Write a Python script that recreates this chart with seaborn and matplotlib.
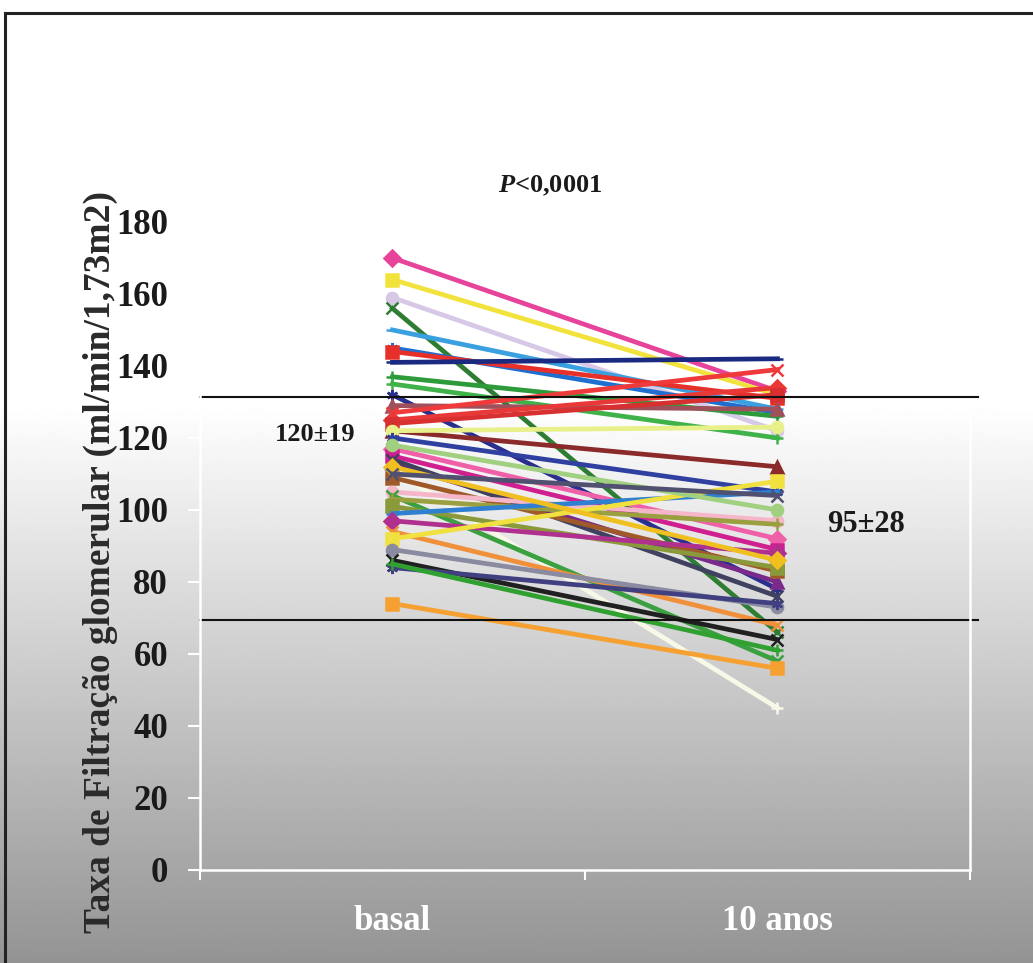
import numpy as np
import pandas as pd
import matplotlib
matplotlib.use('Agg')
import matplotlib.pyplot as plt
import matplotlib.patches as mpatches
import seaborn as sns

# dados (TFG em ml/min/1,73m2)
momentos = ['basal', '10 anos']
basal = [170, 164, 159, 156, 150, 145, 144, 141, 137, 135,
         132, 129, 127, 125, 124, 122, 122, 120, 117, 115,
         113, 111, 114, 109, 105, 104, 103, 101, 99, 97,
         94, 92, 89, 86, 84, 85, 74, 112, 118, 110]
dez_anos = [133, 132, 122, 66, 128, 127, 131, 142, 126, 120,
            78, 128, 139, 134, 132, 112, 123, 105, 92, 89,
            80, 45, 76, 83, 97, 58, 96, 84, 105, 88,
            68, 108, 73, 64, 74, 61, 56, 86, 100, 104]
limites = [131.4, 69.4]

cores = ['#e8439a', '#f2e23c', '#d8c8e8', '#2e7d32', '#3aa0e0', '#1e6fd0', '#e8302a', '#1a2a80',
         '#2e9b3a', '#3fb24a', '#2a2f8f', '#a0505a', '#ee3a3a', '#e83838', '#d83030', '#8b2a2a',
         '#e8f08a', '#3040a0', '#f060a8', '#d02090', '#7a2a8a', '#f8f8e8', '#404060', '#a05a2a',
         '#f4b6c8', '#3aa040', '#9aa040', '#8a9a3a', '#2f80d0', '#b03090', '#f0903a', '#f0e040',
         '#8a8aa0', '#202020', '#404080', '#30a030', '#f5a030', '#f0c020', '#a0d080', '#505070']
marcas = ['D', 's', 'o', 'x', '_', (6, 2, 0), 's', '_', '+', '+', (6, 2, 0), '^', 'x', 'D', 's', '^',
          'o', (6, 2, 0), 'D', 's', '^', '+', 'x', 's', 'o', 'x', '+', 's', '_', 'D',
          'x', 's', 'o', 'x', (6, 2, 0), '+', 's', 'D', 'o', 'x']

plt.rcParams['font.family'] = ['Liberation Serif', 'DejaVu Serif']
plt.rcParams['mathtext.fontset'] = 'custom'
plt.rcParams['mathtext.it'] = 'Liberation Serif:italic:bold'
plt.rcParams['mathtext.rm'] = 'Liberation Serif:bold'

fig = plt.figure(figsize=(10.33, 9.63), dpi=100)

# fundo em degrade (branco -> cinza)
bg = fig.add_axes([0, 0, 1, 1], zorder=-5)
f = np.linspace(0, 1, 400)
g = np.where(f < 0.42, 1.0, 1.0 - (f - 0.42) / 0.58 * 0.42)
bg.imshow(np.tile(g[:, None], (1, 10)), cmap='gray', vmin=0, vmax=1, aspect='auto',
          extent=[0, 1, 0, 1], origin='upper')
bg.axis('off')
fig.patches.append(mpatches.Rectangle((0.005, -0.05), 1.1, 1.0365, transform=fig.transFigure,
                                      fill=False, edgecolor='#222222', lw=2.2))

ax = fig.add_axes([0.1936, 0.0966, 0.7454, 0.6729])
ax.set_facecolor('none')

for b, d, c, m in zip(basal, dez_anos, cores, marcas):
    sns.lineplot(x=momentos, y=[b, d], color=c, marker=m, ax=ax, lw=3.4,
                 markersize=8, markeredgewidth=1.8, markeredgecolor=c, sort=False)
for ln in ax.lines:
    ln.set_clip_on(False)

for y in limites:
    ax.axhline(y, xmin=0, xmax=1.01, color='#111111', lw=1.5, clip_on=False)

ax.set_xlim(-0.5, 1.5)
ax.set_ylim(0, 180)
ax.set_yticks(range(0, 181, 20))
ax.set_xticks([-0.5, 0.5, 1.5])
ax.set_xticklabels([])
ax.set_xticks([0, 1], minor=True)
ax.set_xticklabels(momentos, minor=True, color='white', fontsize=25, fontweight='bold')
ax.tick_params(axis='x', which='minor', length=0, pad=25)
ax.tick_params(axis='x', which='major', length=7, width=1.5, color='white')
ax.tick_params(axis='y', length=9, width=1.5, color='white', pad=14, labelsize=25,
               labelcolor='#1a1a1a')
for t in ax.get_yticklabels():
    t.set_fontweight('bold')
ax.set_xlabel('')
ax.set_ylabel('')
ax.spines['top'].set_visible(False)
for s in ['left', 'bottom', 'right']:
    ax.spines[s].set_color('white')
    ax.spines[s].set_linewidth(1.8)
ax.spines['right'].set_bounds(0, 130)

fig.text(0.097, 0.416, 'Taxa de Filtração glomerular (ml/min/1,73m2)', rotation=90,
         ha='center', va='center', fontsize=27, fontweight='bold', color='#2a2a2a')
ax.text(0.41, 190, r'$\mathit{P}$<0,0001', ha='center', va='center', fontsize=19,
        fontweight='bold', color='#1a1a1a', clip_on=False)
ax.text(-0.2, 121, '120±19', ha='center', va='center', fontsize=19, fontweight='bold',
        color='#1a1a1a')
ax.text(1.23, 96, '95±28', ha='center', va='center', fontsize=22, fontweight='bold',
        color='#1a1a1a')

fig.savefig('out.png', dpi=100)
